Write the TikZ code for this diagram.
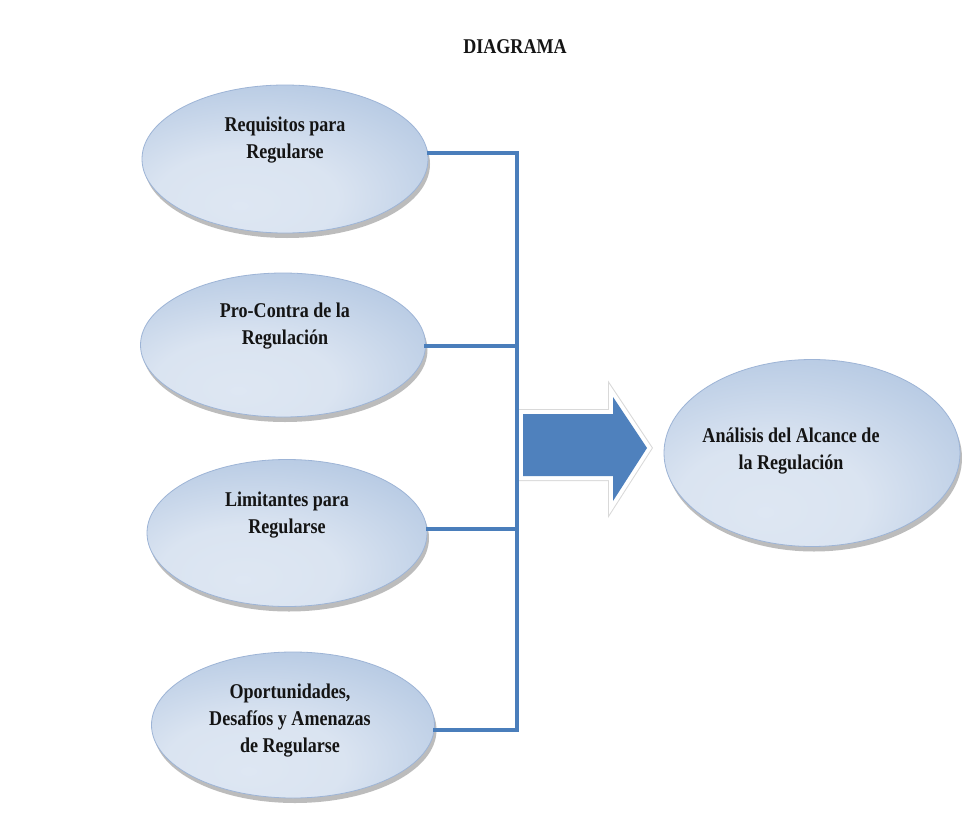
\documentclass[tikz,border=0pt]{standalone}
\usepackage{fontspec}
\setmainfont{Liberation Serif}[FakeStretch=0.86]
\usetikzlibrary{shadows,shapes.geometric}
\definecolor{linkblue}{HTML}{4A7EBB}
\definecolor{arrowblue}{HTML}{4F81BD}
\definecolor{ellborder}{HTML}{9DB4D6}
\pgfdeclareradialshading{ellshade}{\pgfpoint{-8bp}{-16bp}}{%
  rgb(0bp)=(0.870,0.905,0.952);
  rgb(16bp)=(0.855,0.893,0.945);
  rgb(40bp)=(0.700,0.780,0.885);
  rgb(58bp)=(0.585,0.690,0.840);
  rgb(100bp)=(0.585,0.690,0.840)}
\tikzset{
  ell/.style={ellipse, shading=ellshade, draw=ellborder, line width=0.8pt,
    inner sep=0pt,
    drop shadow={shadow xshift=2pt, shadow yshift=-5pt, opacity=0.4, fill=black!65}},
  txt/.style={align=center, font=\fontsize{21}{27}\selectfont\bfseries, text=black!92},
  conn/.style={draw=linkblue, line width=3.4pt, line cap=rect},
}
\begin{document}
\begin{tikzpicture}[x=1pt,y=-1pt]
\useasboundingbox (0,0) rectangle (962,814);
\fill[white] (0,0) rectangle (962,814);

\node[txt] (title) at (515,47) {DIAGRAMA};

% ellipses
\node[ell, minimum width=286, minimum height=148] (e1) at (285,159) {};
\node[ell, minimum width=285, minimum height=144] (e2) at (283,345) {};
\node[ell, minimum width=280, minimum height=147] (e3) at (287,533) {};
\node[ell, minimum width=283, minimum height=146] (e4) at (293,725) {};
\node[ell, minimum width=296, minimum height=187] (e5) at (812,453) {};

% texts
\node[txt] (t1) at (285,140) {Requisitos para\\Regularse};
\node[txt] (t2) at (285,326) {Pro-Contra de la\\Regulación};
\node[txt] (t3) at (287,515) {Limitantes para\\Regularse};
\node[txt] (t4) at (290,721) {Oportunidades,\\Desafíos y Amenazas\\de Regularse};
\node[txt] (t5) at (791,451) {Análisis del Alcance de\\la Regulación};

% big arrow
\coordinate (a1) at (523,414);
\coordinate (a2) at (613,414);
\coordinate (a3) at (613,397);
\coordinate (a4) at (647,448);
\coordinate (a5) at (613,501);
\coordinate (a6) at (613,476);
\coordinate (a7) at (523,476);
\draw[black!40, line width=4pt, line join=miter, xshift=2pt, yshift=-8pt]
  (a1) -- (a2) -- (a3) -- (a4) -- (a5) -- (a6) -- (a7) -- cycle;
\draw[black!15, line width=10pt, line join=miter]
  (a1) -- (a2) -- (a3) -- (a4) -- (a5) -- (a6) -- (a7) -- cycle;
\draw[white, line width=8pt, line join=miter]
  (a1) -- (a2) -- (a3) -- (a4) -- (a5) -- (a6) -- (a7) -- cycle;
\fill[arrowblue] (a1) -- (a2) -- (a3) -- (a4) -- (a5) -- (a6) -- (a7) -- cycle;

% connectors
\coordinate (j1) at (517,153);
\coordinate (j2) at (517,346);
\coordinate (j3) at (517,529);
\coordinate (j4) at (517,730);
\draw[conn] (e1.east |- j1) -- (j1);
\draw[conn] (e2.east |- j2) -- (j2);
\draw[conn] (e3.east |- j3) -- (j3);
\draw[conn] (e4.east |- j4) -- (j4);
\draw[conn] (j1) -- (j4);
\end{tikzpicture}
\end{document}
